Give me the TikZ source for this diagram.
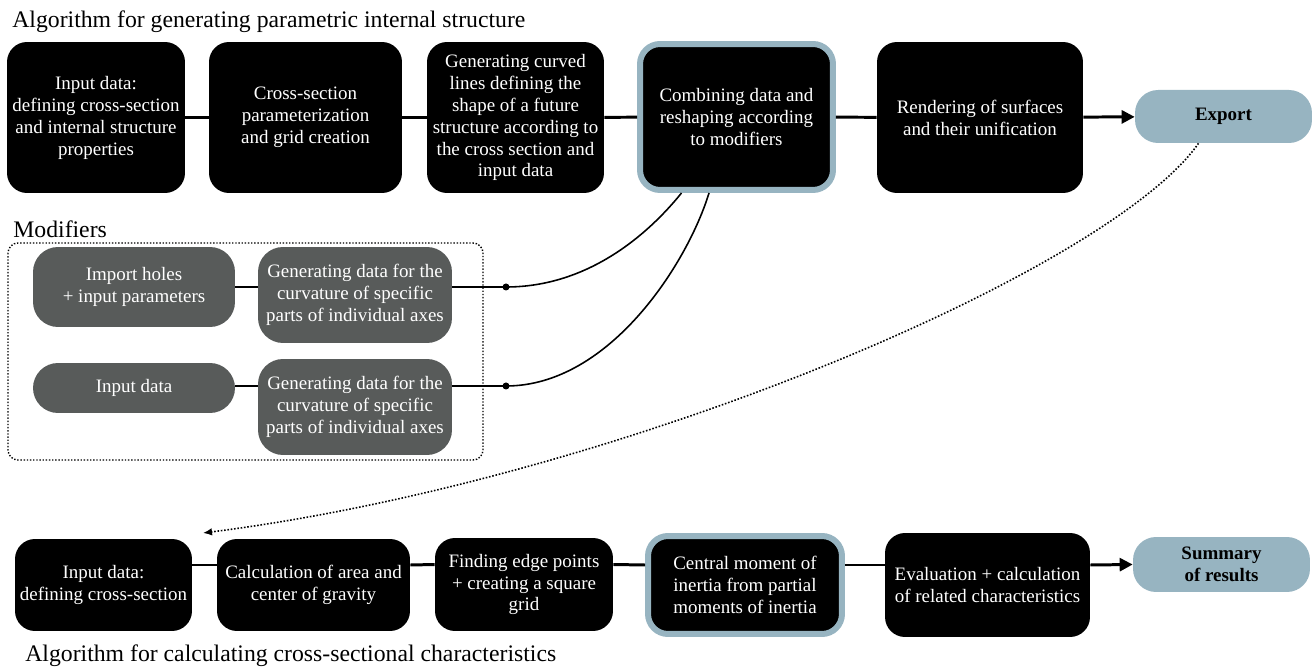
\documentclass[tikz,border=0pt]{standalone}
\usepackage{fontspec}
\setmainfont{Liberation Serif}
\usetikzlibrary{arrows.meta}
\definecolor{steel}{HTML}{97B4C1}
\definecolor{slate}{HTML}{585B5A}

\begin{document}
\begin{tikzpicture}[x=0.02cm, y=-0.02cm,
    every node/.style={font=\fontsize{10.8}{12.5}\selectfont, align=center, inner sep=0pt},
    blackbox/.style={fill=black, text=white, rounded corners=0.4cm},
    greybox/.style={fill=slate, text=white, rounded corners=0.5cm},
    pill/.style={fill=steel, rounded corners=0.46cm,
      font=\fontsize{10.8}{12.5}\selectfont\bfseries},
    marked/.style={draw=steel, line width=1.2mm},
    title/.style={anchor=base west, font=\fontsize{13.5}{15}\selectfont},
    link/.style={line width=1.7pt}]
  \useasboundingbox (0,0) rectangle (1312,668);

  % generating algorithm
  \node[title] (ttop) at (12,28) {Algorithm for generating parametric internal structure};
  \node[blackbox, minimum width=3.56cm, minimum height=3.02cm] (inp) at (96,117.5)
    {Input data:\\ defining cross-section\\ and internal structure\\ properties};
  \node[blackbox, minimum width=3.86cm, minimum height=3.02cm] (param) at (305.5,117.5)
    {Cross-section\\ parameterization\\ and grid creation};
  \node[blackbox, minimum width=3.54cm, minimum height=3.02cm] (curves) at (515.5,117.5)
    {Generating curved\\ lines defining the\\ shape of a future\\ structure according to\\ the cross section and\\ input data};
  \node[blackbox, marked, minimum width=3.86cm, minimum height=2.92cm] (combine) at (736.5,117)
    {Combining data and\\ reshaping according\\ to modifiers};
  \node[blackbox, minimum width=4.12cm, minimum height=3.02cm] (render) at (980,117.5)
    {Rendering of surfaces\\ and their unification};
  \node[pill, minimum width=3.54cm, minimum height=1.06cm] (export) at (1223.5,116.5) {Export};
  \draw[link] (inp) -- (param);
  \draw[link] (param) -- (curves);
  \draw[link] (curves) -- (combine);
  \draw[link] (combine) -- (render);
  \draw[link, -{Triangle[length=2.6mm, width=2.6mm]}] (render) -- (export);

  % modifiers
  \node[title] (tmod) at (13,238) {Modifiers};
  \draw[densely dotted, line width=0.8pt, rounded corners=0.2cm] (8,243) rectangle (483,460);
  \node[greybox, minimum width=4.04cm, minimum height=1.6cm] (mhole) at (134,287)
    {Import holes\\ + input parameters};
  \node[greybox, minimum width=3.88cm, minimum height=1.92cm] (mgen1) at (355,295)
    {Generating data for the\\ curvature of specific\\ parts of individual axes};
  \node[greybox, minimum width=4.04cm, minimum height=1.0cm] (minput) at (134,388) {Input data};
  \node[greybox, minimum width=3.88cm, minimum height=1.92cm] (mgen2) at (355,407)
    {Generating data for the\\ curvature of specific\\ parts of individual axes};
  \coordinate (dot1) at (506,287);
  \coordinate (dot2) at (506,386);
  \draw[line width=1.1pt] (mhole.east) -- (mhole.east -| mgen1.west);
  \draw[line width=1.1pt] (mhole.east -| mgen1.east) -- (dot1);
  \draw[line width=1.1pt] (minput.east |- dot2) -- (dot2 -| mgen2.west);
  \draw[line width=1.1pt] (dot2 -| mgen2.east) -- (dot2);
  \fill (dot1) circle (3.5);
  \fill (dot2) circle (3.5);
  \draw[line width=0.9pt] (dot1) .. controls (590,287) and (650,232) .. ([xshift=-1.1cm]combine.south);
  \draw[line width=0.9pt] (dot2) .. controls (610,386) and (688,262) .. ([xshift=-0.55cm]combine.south);

  % back to the second algorithm
  \coordinate (back) at (203,533);
  \draw[densely dotted, line width=0.9pt, -{Latex[length=1.8mm, width=1.5mm]}]
    ([xshift=-0.5cm]export.south) .. controls (1110,270) and (620,480) .. (back);

  % calculating algorithm
  \node[blackbox, minimum width=3.54cm, minimum height=1.84cm] (cin) at (103.5,585)
    {Input data:\\ defining cross-section};
  \node[blackbox, minimum width=3.86cm, minimum height=1.84cm] (carea) at (313.5,585)
    {Calculation of area and\\ center of gravity};
  \node[blackbox, minimum width=3.56cm, minimum height=1.86cm] (cedge) at (524,584.5)
    {Finding edge points\\ + creating a square\\ grid};
  \node[blackbox, marked, minimum width=3.88cm, minimum height=1.96cm] (cmoment) at (745,585)
    {Central moment of\\ inertia from partial\\ moments of inertia};
  \node[blackbox, minimum width=4.1cm, minimum height=2.08cm] (ceval) at (987.5,585)
    {Evaluation + calculation\\ of related characteristics};
  \node[pill, minimum width=3.54cm, minimum height=1.1cm] (csum) at (1221.5,564.5)
    {Summary\\ of results};
  \draw[link] ([yshift=0.4cm]cin.east) -- ([yshift=0.4cm]carea.west);
  \draw[link] ([yshift=0.4cm]carea.east) -- ([yshift=0.4cm]cedge.west);
  \draw[link] ([yshift=0.4cm]cedge.east) -- ([yshift=0.4cm]cmoment.west);
  \draw[link] ([yshift=0.4cm]cmoment.east) -- ([yshift=0.4cm]ceval.west);
  \draw[link, -{Triangle[length=2.6mm, width=2.6mm]}] ([yshift=0.4cm]ceval.east) -- (csum.west);
  \node[title] (tbot) at (25,662) {Algorithm for calculating cross-sectional characteristics};
\end{tikzpicture}
\end{document}
